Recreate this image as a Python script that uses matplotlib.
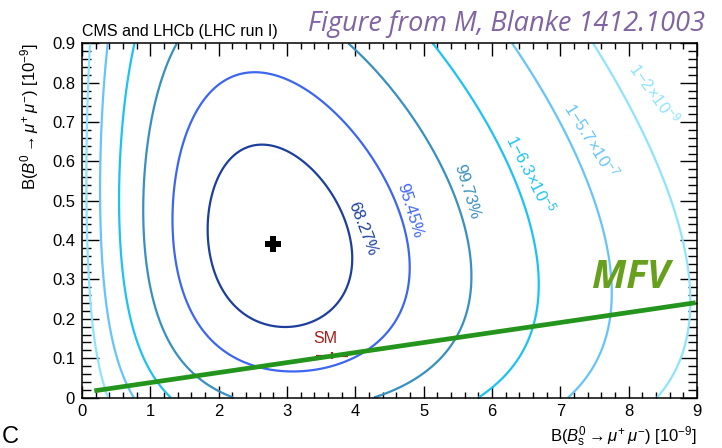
import numpy as np
import matplotlib
matplotlib.use("Agg")
import matplotlib.pyplot as plt
from matplotlib.ticker import MultipleLocator

plt.rcParams["font.family"] = ["Liberation Sans", "DejaVu Sans"]
plt.rcParams["mathtext.fontset"] = "custom"
plt.rcParams["mathtext.rm"] = "Liberation Sans"
plt.rcParams["mathtext.it"] = "Liberation Sans:italic"
plt.rcParams["mathtext.bf"] = "Liberation Sans:bold"

# Combined best fit, in units of 1e-9: B(Bs->mumu), B(B0->mumu)
best_fit = [2.8, 0.39]

# Shape of the combined likelihood (Gaussian in square-root variables)
sigma_sqrt_bs = 0.205
bs_offset = 0.10
sigma_sqrt_bd = 0.0956
bd_offset = 0.25
correlation = -0.16

# Confidence levels of the drawn contours (as 1 - CL) and their labels
p_values = [0.3173, 0.0455, 0.0027, 6.3e-5, 5.7e-7, 2e-9]
cl_labels = ["68.27%", "95.45%", "99.73%",
             r"$1{-}6.3{\times}10^{-5}$", r"$1{-}5.7{\times}10^{-7}$", r"$1{-}2{\times}10^{-9}$"]
cl_colors = ["#1c3f9c", "#3d66f0", "#3790c0", "#1cc2f2", "#66c4fb", "#8ee4ff"]

# Standard Model prediction
sm_value = [3.66, 0.106]
sm_error = [0.23, 0.009]

# Minimal flavour violation line
mfv_bs = [0.18, 8.98]
mfv_bd = [0.017, 0.241]

x_ticks = list(range(0, 10))
y_ticks = [0, 0.1, 0.2, 0.3, 0.4, 0.5, 0.6, 0.7, 0.8, 0.9]

fig = plt.figure(figsize=(7.22, 4.48), dpi=100)
ax = fig.add_axes([0.1136, 0.1127, 0.8518, 0.7904])

# -2 Delta lnL on a grid
bs = np.linspace(0.0, 9.0, 700)
bd = np.linspace(0.0, 0.9, 700)
BS, BD = np.meshgrid(bs, bd)
a = (np.sqrt(BS + bs_offset) - np.sqrt(best_fit[0] + bs_offset)) / sigma_sqrt_bs
b = (np.sqrt(BD + bd_offset) - np.sqrt(best_fit[1] + bd_offset)) / sigma_sqrt_bd
chi2 = (a**2 - 2 * correlation * a * b + b**2) / (1 - correlation**2)
levels = -2.0 * np.log(np.array(p_values))

ax.contour(BS, BD, chi2, levels=levels, colors=cl_colors, linewidths=1.6, zorder=2)

# contour labels
label_pos = [(4.1, 0.43, -69), (4.8, 0.474, -73), (5.63, 0.522, -73),
             (6.57, 0.569, -63), (7.46, 0.654, -58), (8.38, 0.773, -54)]
for (lx, ly, rot), txt, col in zip(label_pos, cl_labels, cl_colors):
    ax.text(lx, ly, txt, color=col, fontsize=12, rotation=rot,
            ha="center", va="center", rotation_mode="anchor", zorder=3)

# best fit
ax.plot([best_fit[0]], [best_fit[1]], marker="P", color="black", markersize=11.5,
        markeredgewidth=0, linestyle="none", zorder=5)

# SM
ax.errorbar([sm_value[0]], [sm_value[1]], xerr=[sm_error[0]], yerr=[sm_error[1]],
            fmt="none", ecolor="#a81c1c", elinewidth=1.6, capsize=0, zorder=3)
ax.text(sm_value[0] - 0.1, sm_value[1] + 0.045, "SM", color="#a81c1c", fontsize=11.5,
        ha="center", va="center", zorder=3)

# MFV
ax.plot(mfv_bs, mfv_bd, color="#23951c", linewidth=3.4, solid_capstyle="butt", zorder=4)
ax.text(8.03, 0.305, "MFV", color="#66a01c", fontsize=28, fontweight="bold",
        fontstyle="italic", family="Open Sans", ha="center", va="center", zorder=4)

ax.set_xlim(0, 9)
ax.set_ylim(0, 0.9)
ax.set_xticks(x_ticks)
ax.set_xticklabels([f"{v:g}" for v in x_ticks])
ax.set_yticks(y_ticks)
ax.set_yticklabels([f"{v:g}" for v in y_ticks])
ax.xaxis.set_minor_locator(MultipleLocator(0.2))
ax.yaxis.set_minor_locator(MultipleLocator(0.02))
ax.tick_params(axis="both", which="both", direction="in", top=True, right=True,
               labelsize=12, width=1.0, colors="black")
ax.tick_params(axis="x", which="major", length=9, pad=5)
ax.tick_params(axis="x", which="minor", length=4.5)
ax.tick_params(axis="y", which="major", length=12, pad=5)
ax.tick_params(axis="y", which="minor", length=6.5)
for sp in ax.spines.values():
    sp.set_linewidth(1.1)

ax.set_xlabel(r"B($B^0_\mathrm{s} \rightarrow \mu^{+}\,\mu^{-}$) [$10^{-9}$]",
              fontsize=12, loc="right", labelpad=4)
ax.set_ylabel(r"B($B^0 \rightarrow \mu^{+}\,\mu^{-}$) [$10^{-9}$]",
              fontsize=12, loc="top", labelpad=8)

ax.text(0.0, 1.012, "CMS and LHCb (LHC run I)", transform=ax.transAxes,
        fontsize=11.5, ha="left", va="bottom")

fig.text(705 / 722, 1 - 31 / 448, "Figure from M, Blanke 1412.1003", color="#8064a2",
         fontsize=19.5, fontstyle="italic", family="Open Sans", ha="right", va="baseline")
fig.text(0.002, 0.0, "C", fontsize=17, ha="left", va="bottom", color="black")

fig.savefig("out.png", dpi=100)
